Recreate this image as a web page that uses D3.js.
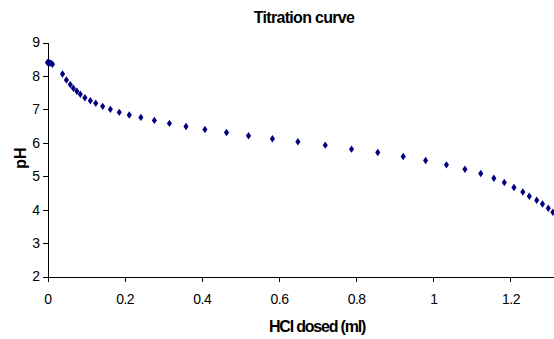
<!DOCTYPE html>
<html>
<head>
<meta charset="utf-8">
<script src="https://cdn.jsdelivr.net/npm/d3@7"></script>
<style>
  html, body { margin: 0; padding: 0; background: #fff; }
  svg { display: block; font-family: "Liberation Sans", Arial, sans-serif; }
  .axis path, .axis line { stroke: #000; stroke-width: 1; shape-rendering: crispEdges; }
  .axis text { font-size: 14px; fill: #000; letter-spacing: -0.5px; }
</style>
</head>
<body>
<div id="chart"></div>
<script>
// HCl dosed (ml)
const hclDosed = [0, 0.003, 0.006, 0.009, 0.013, 0.039, 0.049, 0.059, 0.067, 0.076, 0.085,
    0.097, 0.111, 0.125, 0.143, 0.163, 0.186, 0.212, 0.242, 0.277, 0.316, 0.359, 0.408,
    0.464, 0.521, 0.583, 0.649, 0.720, 0.788, 0.856, 0.922, 0.980, 1.034, 1.082, 1.123,
    1.157, 1.184, 1.209, 1.232, 1.249, 1.268, 1.283, 1.298, 1.310];

// measured pH
const pHValues = [8.40, 8.40, 8.39, 8.38, 8.35, 8.06, 7.88, 7.74, 7.63, 7.54, 7.45,
    7.35, 7.26, 7.18, 7.09, 7.00, 6.91, 6.83, 6.76, 6.67, 6.58, 6.49, 6.40,
    6.31, 6.21, 6.12, 6.03, 5.93, 5.81, 5.71, 5.59, 5.47, 5.34, 5.21, 5.08,
    4.94, 4.81, 4.66, 4.53, 4.40, 4.28, 4.17, 4.04, 3.92];

// the 1.4 tick sits past the right edge of the picture, so it is not listed
const xTicks = [0, 0.2, 0.4, 0.6, 0.8, 1, 1.2];
const yTicks = [2, 3, 4, 5, 6, 7, 8, 9];

const width = 554;
const height = 339;

const svg = d3.select('#chart')
    .append('svg')
    .attr('width', width)
    .attr('height', height);

// scales (the plot runs off the right edge, as in the original)
const x = d3.scaleLinear()
    .domain([0, 1.4])
    .range([47.5, 47.5 + 1.4 * 385.8]);

const y = d3.scaleLinear()
    .domain([2, 9])
    .range([276.5, 42.5]);

// x axis
svg.append('g')
    .attr('class', 'axis')
    .attr('transform', `translate(0,${y(2)})`)
    .call(d3.axisBottom(x)
        .tickValues(xTicks)
        .tickFormat(d => String(d))
        .tickSize(5)
        .tickSizeOuter(0)
        .tickPadding(13));

// y axis
svg.append('g')
    .attr('class', 'axis')
    .attr('transform', `translate(${x(0)},0)`)
    .call(d3.axisLeft(y)
        .tickValues(yTicks)
        .tickFormat(d => String(d))
        .tickSize(5)
        .tickSizeOuter(0)
        .tickPadding(3));

// points
const points = hclDosed.map((v, i) => ({ x: v, y: pHValues[i] }));

svg.append('g')
    .selectAll('path')
    .data(points)
    .enter()
    .append('path')
    .attr('d', d3.symbol(d3.symbolDiamond, 16))
    .attr('transform', d => `translate(${x(d.x)},${y(d.y)}) scale(1.2,1)`)
    .attr('fill', '#000080');

// title and axis labels
svg.append('text')
    .attr('x', 304)
    .attr('y', 23)
    .attr('text-anchor', 'middle')
    .style('font-size', '16px')
    .style('font-weight', 'bold')
    .style('letter-spacing', '-0.7px')
    .text('Titration curve');

svg.append('text')
    .attr('x', 317)
    .attr('y', 331.5)
    .attr('text-anchor', 'middle')
    .style('font-size', '16px')
    .style('font-weight', 'bold')
    .style('letter-spacing', '-1.2px')
    .text('HCl dosed (ml)');

svg.append('text')
    .attr('transform', 'translate(25.5,158) rotate(-90)')
    .attr('text-anchor', 'middle')
    .style('font-size', '16px')
    .style('font-weight', 'bold')
    .text('pH');
</script>
</body>
</html>
